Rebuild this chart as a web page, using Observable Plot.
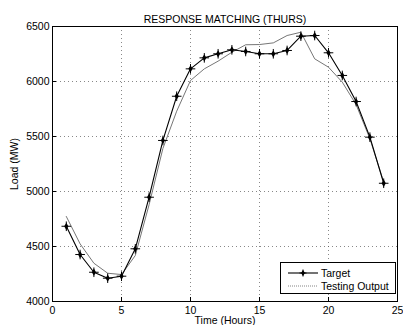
<!DOCTYPE html>
<html><head><meta charset="utf-8">
<script src="https://cdn.jsdelivr.net/npm/d3@7"></script>
<script src="https://cdn.jsdelivr.net/npm/@observablehq/plot@0.6"></script>
<style>
body{margin:0;background:#fff;}
#wrap{position:relative;width:403px;height:325px;overflow:hidden;font-family:"Liberation Sans",Arial,sans-serif;}
#legend{position:absolute;left:280px;top:262px;width:114px;height:30px;border:1px solid #000;background:#fff;font-size:10.5px;}
</style>
</head><body>
<div id="wrap"></div>
<script>
const hours = d3.range(1, 25);
const target = [4684,4427,4266,4212,4230,4479,4948,5464,5866,6115,6215,6252,6288,6273,6252,6252,6282,6412,6418,6261,6055,5818,5494,5075];
const testing = [4773,4524,4348,4257,4245,4418,4880,5391,5730,6009,6115,6185,6266,6334,6336,6351,6418,6448,6206,6130,5994,5790,5480,5085];
const xTicks = [0,5,10,15,20,25];
const yTicks = [4000,4500,5000,5500,6000,6500];
const title = "RESPONSE MATCHING (THURS)";
const seriesNames = ["Target","Testing Output"];

const tData = hours.map((h,i)=>({h, v: target[i]}));
const sData = hours.map((h,i)=>({h, v: testing[i]}));

const chart = Plot.plot({
  width: 403, height: 325,
  marginLeft: 52, marginRight: 6, marginTop: 26, marginBottom: 24,
  style: {fontFamily: '"Liberation Sans", Arial, sans-serif', fontSize: "10px", background: "#fff", color: "#000"},
  x: {domain: [0,25], ticks: xTicks},
  y: {domain: [4000,6500], ticks: yTicks},
  marks: [
    Plot.gridX(xTicks, {stroke: "#555", strokeOpacity: 0.7, strokeDasharray: "1,3"}),
    Plot.gridY(yTicks, {stroke: "#555", strokeOpacity: 0.7, strokeDasharray: "1,3"}),
    Plot.axisX(xTicks, {tickSize: -4, tickPadding: 9, tickFormat: "d", label: "Time (Hours)", labelAnchor: "center", labelOffset: 22, labelArrow: "none", fontSize: 10.5}),
    Plot.axisY(yTicks, {tickSize: -4, tickPadding: 7, tickFormat: "d", label: "Load (MW)", labelAnchor: "center", labelOffset: 42, labelArrow: "none", fontSize: 10.5}),
    Plot.line(sData, {x: "h", y: "v", stroke: "#666", strokeWidth: 0.9}),
    Plot.line(tData, {x: "h", y: "v", stroke: "#000", strokeWidth: 1.1}),
    Plot.dot(tData, {x: "h", y: "v", symbol: "diamond", r: 2.2, fill: "#000"}),
    Plot.dot(tData, {x: "h", y: "v", symbol: "plus", r: 3.2, stroke: "#000", strokeWidth: 1}),
    Plot.frame({stroke: "#000", strokeWidth: 1}),
    Plot.text([title], {frameAnchor: "top", dy: -11, fontSize: 10.5, text: d => d})
  ]
});
document.getElementById("wrap").appendChild(chart);

const leg = document.createElement("div");
leg.id = "legend";
leg.innerHTML = `<svg width="114" height="30" style="position:absolute;left:0;top:0;font-family:'Liberation Sans',Arial,sans-serif;font-size:10.5px">
<line x1="7" x2="37" y1="10" y2="10" stroke="#000" stroke-width="1.1"/>
<path d="M22,7 L24,10 L22,13 L20,10Z" fill="#000"/>
<path d="M22,6.5 V13.5 M18.5,10 H25.5" stroke="#000"/>
<text x="40" y="14">${seriesNames[0]}</text>
<line x1="7" x2="37" y1="23" y2="23" stroke="#777" stroke-width="0.9" stroke-dasharray="1,1"/>
<text x="40" y="27">${seriesNames[1]}</text>
</svg>`;
document.getElementById("wrap").appendChild(leg);
</script>
</body></html>
